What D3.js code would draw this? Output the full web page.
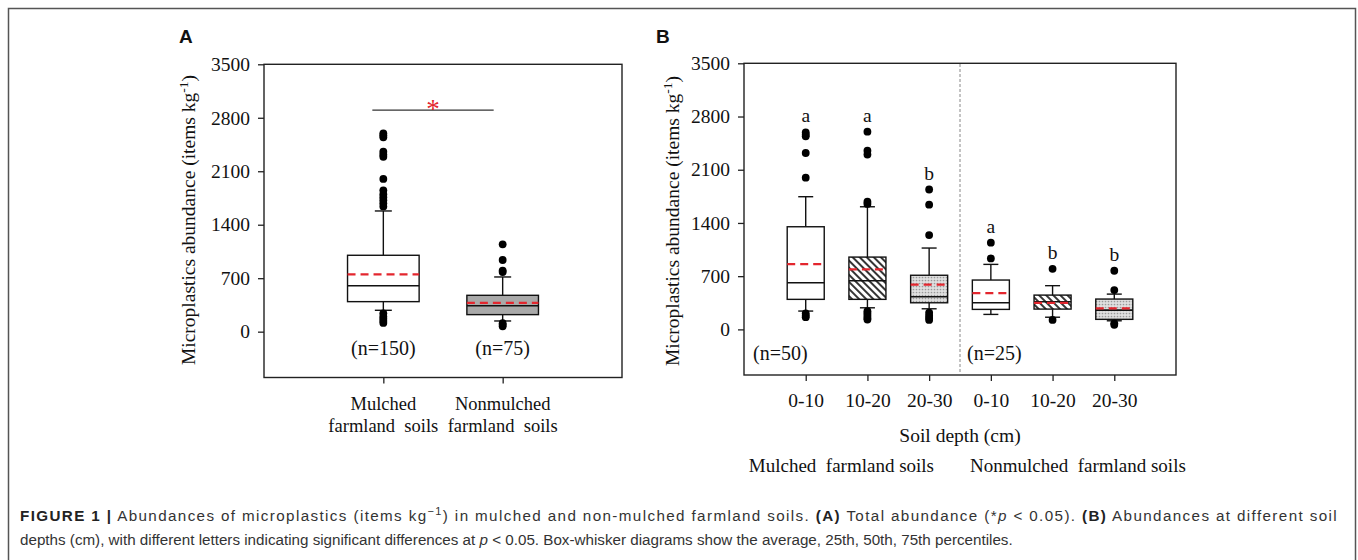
<!DOCTYPE html>
<html>
<head>
<meta charset="utf-8">
<script src="https://cdn.jsdelivr.net/npm/d3@7"></script>
<style>
  body { margin: 0; background: #fff; }
  svg { display: block; }
  .serif { font-family: "Liberation Serif", "Times New Roman", serif; fill: #111; }
  .pre { white-space: pre; }
</style>
</head>
<body>
<svg id="fig" width="1358" height="560"></svg>
<script>
// ---- data ----
const yTicks = [0, 700, 1400, 2100, 2800, 3500];

// panel A: total abundance
const aCats = ["Mulched", "Nonmulched"];
const aLabelLines = [["Mulched", "farmland  soils"], ["Nonmulched", "farmland  soils"]];
const aQ1 = [393, 223];
const aMedian = [602, 340];
const aQ3 = [1000, 476];
const aMean = [751, 376];
const aWhiskLo = [280, 140];
const aWhiskHi = [1580, 716];
const aOutliers = [
  [2597, 2570, 2545, 2356, 2320, 2290, 2000, 1850, 1800, 1760, 1720, 1680, 1640, 240, 200, 170, 140, 115],
  [1144, 938, 800, 780, 110, 90, 70]
];
const aN = ["(n=150)", "(n=75)"];
const sigValue = 2900;

// panel B: by soil depth
const bCats = ["M0-10", "M10-20", "M20-30", "N0-10", "N10-20", "N20-30"];
const bTickText = ["0-10", "10-20", "20-30", "0-10", "10-20", "20-30"];
const bQ1 = [395, 395, 350, 263, 267, 132];
const bMedian = [613, 640, 429, 350, 363, 254];
const bQ3 = [1350, 951, 712, 649, 451, 399];
const bMean = [859, 790, 590, 477, 350, 276];
const bWhiskLo = [241, 284, 271, 197, 160, 113];
const bWhiskHi = [1745, 1613, 1070, 855, 575, 464];
const bOutliers = [
  [2590, 2560, 2540, 2320, 1995, 210, 180, 160],
  [2600, 2350, 2300, 1680, 1650, 240, 210, 180, 150, 130],
  [1840, 1640, 1240, 220, 180, 150, 125],
  [1140, 934],
  [797, 125],
  [771, 517, 80, 60]
];
const bLetters = ["a", "a", "b", "a", "b", "b"];
const bN = ["(n=50)", "(n=25)"];
const bGroups = ["Mulched  farmland soils", "Nonmulched  farmland soils"];

const svg = d3.select("#fig");
const red = "#e3262e";

// fill patterns: diagonal hatch and grey stipple
const defs = svg.append("defs");
const hatch = defs.append("pattern").attr("id", "hatch")
  .attr("patternUnits", "userSpaceOnUse").attr("width", 5).attr("height", 5)
  .attr("patternTransform", "rotate(-45)");
hatch.append("rect").attr("width", 5).attr("height", 5).attr("fill", "#fff");
hatch.append("line").attr("x1", 1).attr("x2", 1).attr("y1", 0).attr("y2", 5)
  .attr("stroke", "#111").attr("stroke-width", 1.7);
const stip = defs.append("pattern").attr("id", "stipple")
  .attr("patternUnits", "userSpaceOnUse").attr("width", 3).attr("height", 3);
stip.append("rect").attr("width", 3).attr("height", 3).attr("fill", "#e0e0e0");
stip.append("circle").attr("cx", 1.5).attr("cy", 1.5).attr("r", 0.85).attr("fill", "#999");

// outer frame (open at the bottom)
svg.append("path").attr("d", "M8.5,600V8.5H1355.5V600")
  .attr("fill", "none").attr("stroke", "#555").attr("stroke-width", 1.5);

function yTitle(g, cx, cy) {
  const t = g.append("text").attr("class", "serif")
    .attr("transform", `translate(${cx},${cy}) rotate(-90)`)
    .attr("text-anchor", "middle").attr("dy", "0.33em")
    .style("font-size", "19.5px");
  t.append("tspan").text("Microplastics abundance (items kg");
  t.append("tspan").attr("baseline-shift", "super").style("font-size", "13.5px").text("-1");
  t.append("tspan").text(")");
}

function drawPanel(o) {
  const g = svg.append("g");
  const x = d3.scalePoint().domain(o.cats).range([o.left, o.right]).padding(1);
  const y = d3.scaleLinear().domain([-600, 3500]).range([o.bottom, o.top]);
  const bw = x.step() * 0.6;

  g.append("rect").attr("x", o.left).attr("y", o.top)
    .attr("width", o.right - o.left).attr("height", o.bottom - o.top)
    .attr("fill", "none").attr("stroke", "#222").attr("stroke-width", 1.4);

  const ya = g.append("g").attr("transform", `translate(${o.left},0)`)
    .call(d3.axisLeft(y).tickValues(yTicks).tickFormat(d3.format("d")).tickSize(6).tickPadding(8));
  const xa = g.append("g").attr("transform", `translate(0,${o.bottom})`)
    .call(d3.axisBottom(x).tickSize(6).tickPadding(12).tickFormat((d, i) => o.tickText ? o.tickText[i] : ""));
  [ya, xa].forEach(a => {
    a.select(".domain").remove();
    a.selectAll("line").attr("stroke", "#222").attr("stroke-width", 1.3);
    a.selectAll("text").attr("class", "serif").style("font-size", "19.5px").attr("fill", "#111");
  });

  o.cats.forEach((c, i) => {
    const cx = x(c);
    const bx = g.append("g");
    bx.append("line").attr("x1", cx).attr("x2", cx).attr("y1", y(o.q3[i])).attr("y2", y(o.hi[i]))
      .attr("stroke", "#111").attr("stroke-width", 1.4);
    bx.append("line").attr("x1", cx).attr("x2", cx).attr("y1", y(o.q1[i])).attr("y2", y(o.lo[i]))
      .attr("stroke", "#111").attr("stroke-width", 1.4);
    [o.hi[i], o.lo[i]].forEach(v => {
      bx.append("line").attr("x1", cx - o.cap / 2).attr("x2", cx + o.cap / 2)
        .attr("y1", y(v)).attr("y2", y(v)).attr("stroke", "#111").attr("stroke-width", 1.4);
    });
    bx.append("rect").attr("x", cx - bw / 2).attr("y", y(o.q3[i]))
      .attr("width", bw).attr("height", y(o.q1[i]) - y(o.q3[i]))
      .attr("fill", o.fills[i]).attr("stroke", "#111").attr("stroke-width", 1.4);
    bx.append("line").attr("x1", cx - bw / 2).attr("x2", cx + bw / 2)
      .attr("y1", y(o.median[i])).attr("y2", y(o.median[i]))
      .attr("stroke", "#111").attr("stroke-width", 1.6);
    bx.append("line").attr("x1", cx - bw / 2).attr("x2", cx + bw / 2)
      .attr("y1", y(o.mean[i])).attr("y2", y(o.mean[i]))
      .attr("stroke", red).attr("stroke-width", 2.2).attr("stroke-dasharray", "8,5");
    bx.selectAll("circle").data(o.outliers[i]).join("circle")
      .attr("cx", cx).attr("cy", d => y(d)).attr("r", 3.9).attr("fill", "#000");
    if (o.letters) {
      const top = d3.max(o.outliers[i].concat([o.hi[i]]));
      g.append("text").attr("class", "serif").attr("x", cx).attr("y", y(top) - 10)
        .attr("text-anchor", "middle").style("font-size", "19.5px").text(o.letters[i]);
    }
  });
  return { g, x, y };
}

// ---- panel A ----
const A = drawPanel({
  left: 264, right: 622, top: 64.3, bottom: 377.5, cats: aCats, tickText: null,
  q1: aQ1, median: aMedian, q3: aQ3, mean: aMean, lo: aWhiskLo, hi: aWhiskHi,
  outliers: aOutliers, fills: ["#fff", "#a9a9a9"], cap: 17
});
yTitle(A.g, 189, 220);
aLabelLines.forEach((lines, i) => {
  lines.forEach((ln, j) => {
    A.g.append("text").attr("class", "serif pre").attr("x", A.x(aCats[i])).attr("y", 410 + j * 22)
      .attr("text-anchor", "middle").style("font-size", "18.5px").text(ln);
  });
  A.g.append("text").attr("class", "serif").attr("x", A.x(aCats[i])).attr("y", A.y(-300))
    .attr("text-anchor", "middle").style("font-size", "20px").text(aN[i]);
});
A.g.append("line").attr("x1", A.x(aCats[0]) - 11).attr("x2", A.x(aCats[1]) - 9)
  .attr("y1", A.y(sigValue)).attr("y2", A.y(sigValue)).attr("stroke", "#333").attr("stroke-width", 1.3);
A.g.append("text").attr("x", (A.x(aCats[0]) + A.x(aCats[1])) / 2 - 10).attr("y", A.y(sigValue) + 8)
  .attr("text-anchor", "middle").attr("fill", red)
  .style("font-family", "serif").style("font-size", "27px").text("*");

// ---- panel B ----
const B = drawPanel({
  left: 744, right: 1176, top: 63.3, bottom: 375, cats: bCats, tickText: bTickText,
  q1: bQ1, median: bMedian, q3: bQ3, mean: bMean, lo: bWhiskLo, hi: bWhiskHi,
  outliers: bOutliers, letters: bLetters,
  fills: ["#fff", "url(#hatch)", "url(#stipple)", "#fff", "url(#hatch)", "url(#stipple)"], cap: 15
});
yTitle(B.g, 673, 221);
const divX = (B.x(bCats[2]) + B.x(bCats[3])) / 2;
B.g.append("line").attr("x1", divX).attr("x2", divX).attr("y1", 64).attr("y2", 374)
  .attr("stroke", "#888").attr("stroke-width", 1).attr("stroke-dasharray", "3,2");
B.g.append("text").attr("class", "serif").attr("x", 744 + 9).attr("y", B.y(-400))
  .style("font-size", "20px").text(bN[0]);
B.g.append("text").attr("class", "serif").attr("x", divX + 7).attr("y", B.y(-400))
  .style("font-size", "20px").text(bN[1]);
B.g.append("text").attr("class", "serif").attr("x", 960).attr("y", 442)
  .attr("text-anchor", "middle").style("font-size", "19.5px").text("Soil depth (cm)");
B.g.append("text").attr("class", "serif pre").attr("x", divX - 26).attr("y", 472)
  .attr("text-anchor", "end").style("font-size", "19px").text(bGroups[0]);
B.g.append("text").attr("class", "serif pre").attr("x", divX + 10).attr("y", 472)
  .style("font-size", "19px").text(bGroups[1]);

// panel letters
[["A", 179], ["B", 656]].forEach(([t, px]) => {
  svg.append("text").attr("x", px).attr("y", 43).attr("fill", "#111")
    .style("font-family", "'Liberation Sans', Arial, sans-serif").style("font-weight", "bold")
    .style("font-size", "19px").text(t);
});

// ---- caption (first line spread to the frame width) ----
const capLines = [
  [["FIGURE 1 |", "b"], [" Abundances of microplastics (items kg"], ["\u22121", "sup"],
   [") in mulched and non-mulched farmland soils. ", "after"], ["(A)", "b"], [" Total abundance (*"],
   ["p", "i"], [" < 0.05). "], ["(B)", "b"], [" Abundances at different soil"]],
  [["depths (cm), with different letters indicating significant differences at "], ["p", "i"],
   [" < 0.05. Box-whisker diagrams show the average, 25th, 50th, 75th percentiles."]]
];
capLines.forEach((segs, li) => {
  const t = svg.append("text").attr("x", 20).attr("y", 521 + li * 24).attr("fill", "#333")
    .style("font-family", "'Liberation Sans', Arial, sans-serif").style("font-size", "15.2px")
    .attr("class", "pre");
  segs.forEach(([s, k]) => {
    const ts = t.append("tspan").text(s);
    if (k === "b") ts.style("font-weight", "bold").attr("fill", "#222");
    if (k === "i") ts.style("font-style", "italic");
    if (k === "sup") ts.attr("dy", -6).style("font-size", "11px");
    if (k === "after") ts.attr("dy", 6);
  });
  if (li === 0) {
    const chars = segs.map(s => s[0]).join("").length;
    const w = t.node().getComputedTextLength();
    t.style("letter-spacing", ((1338 - 20 - w) / chars) + "px");
  }
});
</script>
</body>
</html>
